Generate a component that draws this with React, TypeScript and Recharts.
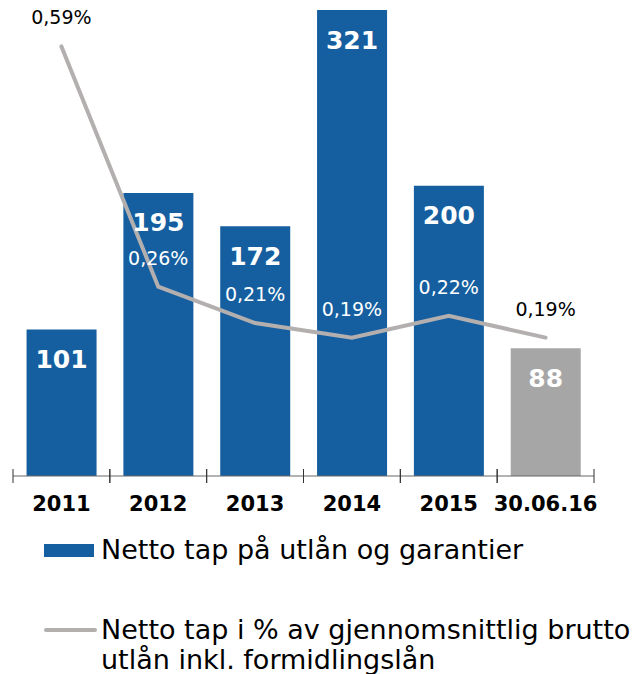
import React from 'react';
import { ComposedChart, Bar, Line, XAxis, YAxis, Cell, LabelList } from 'recharts';

const categories = ['2011', '2012', '2013', '2014', '2015', '30.06.16'];
const netLoss = [101, 195, 172, 321, 200, 88];
const lossPct = [0.59, 0.26, 0.21, 0.19, 0.22, 0.19];

const barLegend = 'Netto tap på utlån og garantier';
const lineLegend = ['Netto tap i % av gjennomsnittlig brutto', 'utlån inkl. formidlingslån'];

const data = categories.map((cat, i) => ({ cat, loss: netLoss[i], pct: lossPct[i] }));

const BLUE = '#155FA0';
const GRAY_BAR = '#A6A6A6';
const LINE = '#B3AFAF';
const FONT = '"DejaVu Sans", Verdana, sans-serif';

const W = 633;
const H = 520;
const MARGIN = { top: 10, right: 39, left: 13, bottom: 4 };
const HALF_BAND = (W - MARGIN.left - MARGIN.right) / categories.length / 2;

const fmtPct = (v: number) => v.toFixed(2).replace('.', ',') + '%';

const CustomTick = (props: any) => {
  const { x, y, payload } = props;
  return (
    <g>
      <line x1={x - HALF_BAND} x2={x - HALF_BAND} y1={y - 7} y2={y + 7} stroke="#333" strokeWidth={1} />
      <line x1={x + HALF_BAND} x2={x + HALF_BAND} y1={y - 7} y2={y + 7} stroke="#333" strokeWidth={1} />
      <text x={x} y={y + 28} textAnchor="middle" dominantBaseline="central" fontFamily={FONT} fontWeight="bold" fontSize={21} fill="#000">
        {payload.value}
      </text>
    </g>
  );
};

const BarValueLabel = (props: any) => {
  const { x, y, width, value } = props;
  return (
    <text x={x + width / 2} y={y + 30} textAnchor="middle" dominantBaseline="central" fontFamily={FONT} fontWeight="bold" fontSize={25} fill="#fff">
      {value}
    </text>
  );
};

const pctLabelDark = [true, false, false, false, false, true];

const PctLabel = (props: any) => {
  const { x, y, value, index } = props;
  return (
    <text x={x} y={y - 29} textAnchor="middle" dominantBaseline="central" fontFamily={FONT} fontSize={19} fill={pctLabelDark[index] ? '#000' : '#fff'}>
      {fmtPct(value)}
    </text>
  );
};

export default function App() {
  return (
    <div style={{ position: 'absolute', left: 0, top: 0, width: W, height: 674, background: '#fff' }}>
      <ComposedChart width={W} height={H} data={data} margin={MARGIN} barCategoryGap="14%">
        <XAxis
          dataKey="cat"
          height={40}
          tickSize={0}
          tickMargin={0}
          tickLine={false}
          axisLine={{ stroke: '#666', strokeWidth: 1 }}
          tick={<CustomTick />}
          interval={0}
        />
        <YAxis yAxisId="left" hide domain={[0, 321]} />
        <YAxis yAxisId="right" hide orientation="right" domain={[0, 0.64]} />
        <Bar yAxisId="left" dataKey="loss" isAnimationActive={false}>
          {data.map((d, i) => (
            <Cell key={d.cat} fill={i === data.length - 1 ? GRAY_BAR : BLUE} />
          ))}
          <LabelList dataKey="loss" content={<BarValueLabel />} />
        </Bar>
        <Line
          yAxisId="right"
          dataKey="pct"
          stroke={LINE}
          strokeWidth={4}
          strokeLinecap="round"
          dot={false}
          activeDot={false}
          isAnimationActive={false}
        >
          <LabelList dataKey="pct" content={<PctLabel />} />
        </Line>
      </ComposedChart>
      <div style={{ position: 'absolute', left: 0, top: 0, width: W, height: 674, fontFamily: FONT, pointerEvents: 'none' }}>
        <div style={{ position: 'absolute', left: 44, top: 544, width: 50, height: 13, background: BLUE }} />
        <div style={{ position: 'absolute', left: 101, top: 535, fontSize: 27, lineHeight: '30px', whiteSpace: 'nowrap', color: '#000' }}>
          {barLegend}
        </div>
        <div style={{ position: 'absolute', left: 44, top: 628, width: 53, height: 4, borderRadius: 2, background: LINE }} />
        <div style={{ position: 'absolute', left: 101, top: 615, fontSize: 27, lineHeight: '30px', whiteSpace: 'nowrap', color: '#000' }}>
          <div>{lineLegend[0]}</div>
          <div>{lineLegend[1]}</div>
        </div>
      </div>
    </div>
  );
}
